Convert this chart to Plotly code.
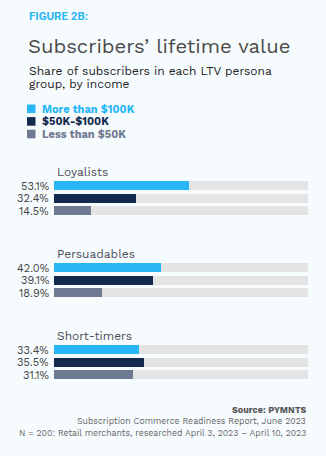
import plotly.graph_objects as go

W, H = 326, 456
groups = ["Loyalists", "Persuadables", "Short-timers"]
series = ["More than $100K", "$50K-$100K", "Less than $50K"]
values = {
    "More than $100K": [53.1, 42.0, 33.4],
    "$50K-$100K": [32.4, 39.1, 35.5],
    "Less than $50K": [14.5, 18.9, 31.1],
}
colors = ["#29B6F6", "#132A4E", "#6E7A92"]
track_color = "#E4E4E4"
bg = "#F6FBFE"

# layout positions (pixels from top)
group_start = [185.5, 267.5, 349.5]
row_step = 12.6
bar_h = 9

fig = go.Figure()
ys_all = []
for gi, g in enumerate(groups):
    for si, s in enumerate(series):
        ys_all.append(group_start[gi] + si * row_step)

# tracks
fig.add_trace(go.Bar(x=[100] * len(ys_all), y=ys_all, orientation="h",
                     marker=dict(color=track_color, line=dict(width=0)),
                     width=bar_h, hoverinfo="skip", showlegend=False))
for si, s in enumerate(series):
    ys = [group_start[gi] + si * row_step for gi in range(len(groups))]
    fig.add_trace(go.Bar(x=values[s], y=ys, orientation="h", name=s,
                         marker=dict(color=colors[si], line=dict(width=0)),
                         width=bar_h, showlegend=False))

x0, x1 = 54 / W, 308 / W
fig.update_layout(
    width=W, height=H, margin=dict(l=0, r=0, t=0, b=0),
    paper_bgcolor=bg, plot_bgcolor=bg, barmode="overlay",
    xaxis=dict(range=[0, 100], domain=[x0, x1], visible=False, fixedrange=True),
    yaxis=dict(range=[H, 0], domain=[0, 1], visible=False, fixedrange=True),
    bargap=0,
)

ann = []
def px(v):
    return v / W

FONT = "Work Sans, Inter, Open Sans, sans-serif"
ann.append(dict(text="<b>FIGURE 2B:</b>", x=px(27), y=16, xref="paper", yref="y",
                xanchor="left", yanchor="middle", showarrow=False,
                font=dict(family="Roboto", size=11.5, color="#29B6F6")))
ann.append(dict(text="Subscribers’ lifetime value", x=px(26), y=46, xref="paper", yref="y",
                xanchor="left", yanchor="middle", showarrow=False,
                font=dict(family=FONT, size=20.3, color="#4A4A4A")))
ann.append(dict(text="Share of subscribers in each LTV persona", x=px(27), y=70, xref="paper", yref="y",
                xanchor="left", yanchor="middle", showarrow=False, height=13,
                font=dict(family=FONT, size=12, color="#222222")))
ann.append(dict(text="group, by income", x=px(27), y=83, xref="paper", yref="y",
                xanchor="left", yanchor="middle", showarrow=False, height=13,
                font=dict(family=FONT, size=12, color="#222222")))

shapes = []
leg_y = [108.8, 121.4, 134.0]
for si, s in enumerate(series):
    shapes.append(dict(type="rect", xref="paper", yref="y", x0=px(27), x1=px(35.5),
                       y0=leg_y[si] - 4.3, y1=leg_y[si] + 4.3,
                       fillcolor=colors[si], line=dict(width=0)))
    ann.append(dict(text="<b>" + s + "</b>", x=px(40), y=leg_y[si], xref="paper", yref="y",
                    xanchor="left", yanchor="middle", showarrow=False, height=12,
                    font=dict(family=FONT, size=11, color=colors[si])))

for gi, g in enumerate(groups):
    ann.append(dict(text=g, x=px(55), y=group_start[gi] - 13.5, xref="paper", yref="y",
                    xanchor="left", yanchor="middle", showarrow=False, height=12,
                    font=dict(family=FONT, size=12, color="#4D4D5A")))
    for si, s in enumerate(series):
        ann.append(dict(text=f"{values[s][gi]:.1f}%", x=px(50.5), y=group_start[gi] + si * row_step,
                        xref="paper", yref="y", xanchor="right", yanchor="middle", height=12,
                        showarrow=False, font=dict(family=FONT, size=11, color="#444444")))

ann.append(dict(text="<b>Source: PYMNTS</b>", x=px(308), y=410, xref="paper", yref="y",
                xanchor="right", yanchor="middle", showarrow=False, height=10,
                font=dict(family=FONT, size=9, color="#555555")))
ann.append(dict(text="Subscription Commerce Readiness Report, June 2023", x=px(308), y=421, xref="paper", yref="y",
                xanchor="right", yanchor="middle", showarrow=False, height=10,
                font=dict(family=FONT, size=8.7, color="#666666")))
ann.append(dict(text="N = 200: Retail merchants, researched April 3, 2023 – April 10, 2023", x=px(308), y=433, xref="paper", yref="y",
                xanchor="right", yanchor="middle", showarrow=False, height=10,
                font=dict(family=FONT, size=8.7, color="#666666")))

fig.update_layout(annotations=ann, shapes=shapes)
fig.write_html("out.html")
